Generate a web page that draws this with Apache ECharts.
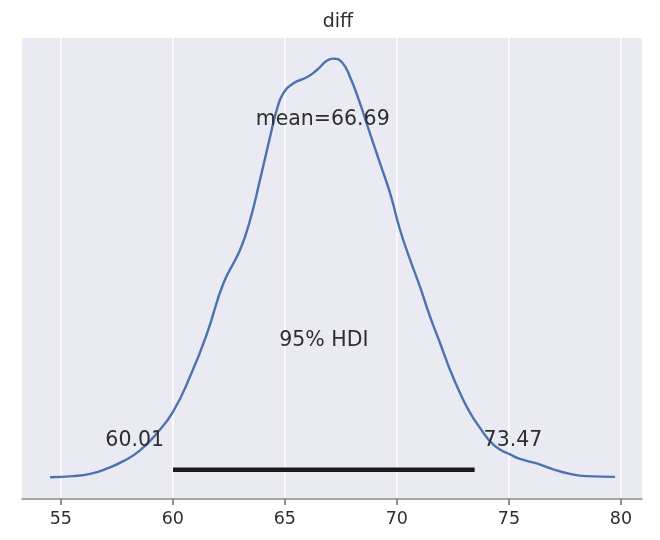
<!DOCTYPE html>
<html lang="en">
<head>
    <meta charset="UTF-8">
    <title>diff</title>
    <script src="https://cdn.jsdelivr.net/npm/echarts/dist/echarts.min.js"></script>
    <style>
        html, body { margin: 0; padding: 0; background: #fff; }
        #chart { width: 660px; height: 540px; }
    </style>
</head>
<body>
<div id="chart"></div>
<script>
    // KDE of the posterior "diff" (x = value, y = density)
    const kdeX = [54.52, 55.56, 56.31, 57.05, 57.79, 58.54, 59.28, 60.02, 60.77, 61.51,
        62.26, 63.00, 63.45, 63.89, 64.34, 64.64, 64.93, 65.38, 65.98, 66.42,
        66.87, 67.16, 67.54, 67.91, 68.36, 68.65, 69.25, 69.70, 70.14, 70.59,
        71.03, 71.48, 71.93, 72.37, 72.82, 73.27, 73.71, 74.16, 74.60, 75.05,
        75.49, 76.24, 76.98, 77.73, 78.47, 79.73];
    const kdeY = [0.0000, 0.0003, 0.0009, 0.0023, 0.0043, 0.0072, 0.0117, 0.0176, 0.0269, 0.0381,
        0.0518, 0.0607, 0.0687, 0.0794, 0.0909, 0.0981, 0.1025, 0.1052, 0.1068, 0.1087,
        0.1112, 0.1118, 0.1109, 0.1069, 0.0998, 0.0945, 0.0838, 0.0758, 0.0661, 0.0581,
        0.0509, 0.0429, 0.0358, 0.0287, 0.0225, 0.0172, 0.0132, 0.0096, 0.0074, 0.0061,
        0.0049, 0.0037, 0.0021, 0.0009, 0.0003, 0.0001];

    const hdi = [60.01, 73.47];
    const meanValue = 66.69;
    const hdiLevel = 0.0020;   // height of the HDI bar
    const hdiLabelLevel = 0.0098;
    const hdiTextLevel = 0.0365;
    const meanTextLevel = 0.0954;
    const xTicks = [55, 60, 65, 70, 75, 80];

    const fontFamily = 'DejaVu Sans';
    const textColor = '#2e2e2e';

    const chart = echarts.init(document.getElementById('chart'), null, { renderer: 'canvas' });

    const option = {
        animation: false,
        backgroundColor: '#ffffff',
        title: {
            text: 'diff',
            left: 333,
            top: 8,
            textAlign: 'center',
            textStyle: { fontFamily: fontFamily, fontSize: 19, fontWeight: 'normal', color: textColor }
        },
        grid: {
            left: 22, right: 18, top: 38, bottom: 41,
            show: true,
            backgroundColor: '#EAEAF2',
            borderWidth: 0
        },
        xAxis: {
            type: 'value',
            min: 53.27,
            max: 80.94,
            axisLine: { show: true, onZero: false, lineStyle: { color: '#8c8c8c', width: 1.5 } },
            axisTick: {
                show: true, inside: false, customValues: xTicks, length: 6,
                lineStyle: { color: '#6e6e6e', width: 1.5, opacity: 1 }
            },
            axisLabel: {
                customValues: xTicks,
                fontFamily: fontFamily, fontSize: 17.5, color: textColor, margin: 11
            },
            splitLine: { show: true, lineStyle: { color: '#ffffff', width: 1.5 } }
        },
        yAxis: {
            type: 'value',
            min: -0.0058,
            max: 0.1173,
            show: false,
            splitLine: { show: false }
        },
        series: [
            {
                name: 'kde',
                type: 'line',
                data: kdeX.map((x, i) => [x, kdeY[i]]),
                smooth: 0.5,
                showSymbol: false,
                lineStyle: { color: '#4C72B0', width: 2.4 },
                z: 3
            },
            {
                name: 'hdi',
                type: 'line',
                data: hdi.map(x => [x, hdiLevel]),
                showSymbol: false,
                lineStyle: { color: '#1a1a1a', width: 4.5, cap: 'butt' },
                z: 4
            },
            {
                name: 'texts',
                type: 'scatter',
                symbolSize: 0,
                z: 5,
                itemStyle: { opacity: 1 },
                label: {
                    show: true,
                    position: 'inside',
                    fontFamily: fontFamily,
                    fontSize: 20.5,
                    color: textColor,
                    opacity: 1,
                    formatter: p => p.data.text
                },
                data: [
                    { value: [hdi[0], hdiLabelLevel], text: hdi[0].toFixed(2),
                        label: { align: 'right', offset: [-9, 0] } },
                    { value: [hdi[1], hdiLabelLevel], text: hdi[1].toFixed(2),
                        label: { align: 'left', offset: [9, 0] } },
                    { value: [(hdi[0] + hdi[1]) / 2, hdiTextLevel], text: '95% HDI' },
                    { value: [meanValue, meanTextLevel], text: 'mean=' + meanValue.toFixed(2) }
                ]
            }
        ]
    };

    chart.setOption(option);
</script>
</body>
</html>
